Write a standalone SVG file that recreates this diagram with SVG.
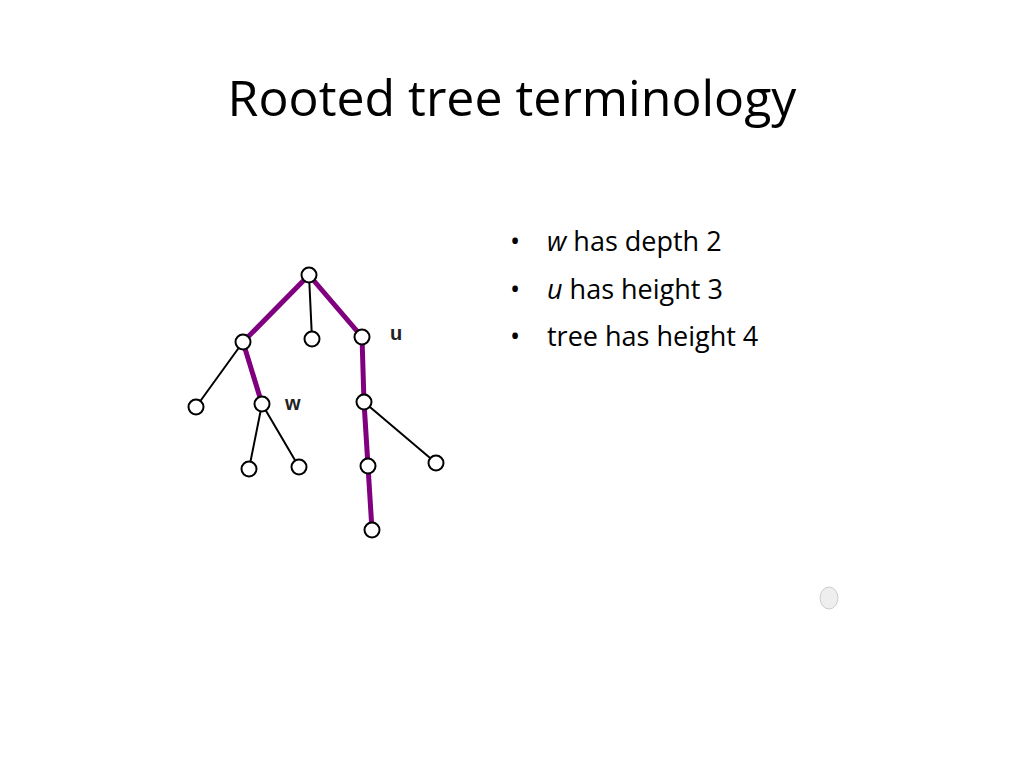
<svg xmlns="http://www.w3.org/2000/svg" width="1024" height="768" viewBox="0 0 1024 768">
<style>
.e{stroke:#000;stroke-width:2;fill:none}
.p{stroke:#800080;stroke-width:5;fill:none;stroke-linecap:round}
.n{fill:#fff;stroke:#000;stroke-width:2}
.t{font-family:"Open Sans","Liberation Sans",sans-serif;fill:#000}
.l{font-family:"Liberation Sans",sans-serif;font-weight:bold;font-size:20px;fill:#222}
</style>
<rect width="1024" height="768" fill="#fff"/>
<text class="t" x="512" y="116" font-size="50" text-anchor="middle">Rooted tree terminology</text>
<g class="t" font-size="27" fill="#222">
<text x="510" y="251">•</text><text x="547" y="251"><tspan font-style="italic">w</tspan> has depth 2</text>
<text x="510" y="299">•</text><text x="547" y="299"><tspan font-style="italic">u</tspan> has height 3</text>
<text x="510" y="346">•</text><text x="547" y="346">tree has height 4</text>
</g>
<g id="connectors">
<path class="e" d="M309 275L312 339M243 342L196 407M262 404L249 469M262 404L299 467M364 402L436 463"/>
<path class="p" d="M309 275L243 342L262 404M309 275L362 337L364 402L368 466L372 530"/>
</g>
<g id="root"><circle class="n" cx="309" cy="275" r="7.5"/></g>
<g id="a"><circle class="n" cx="243" cy="342" r="7.5"/></g>
<g id="b"><circle class="n" cx="312" cy="339" r="7.5"/></g>
<g id="u"><circle class="n" cx="362" cy="337" r="7.5"/><text class="l" x="390" y="340">u</text></g>
<g id="leaf1"><circle class="n" cx="196" cy="407" r="7.5"/></g>
<g id="w"><circle class="n" cx="262" cy="404" r="7.5"/><text class="l" x="285" y="410">w</text></g>
<g id="u1"><circle class="n" cx="364" cy="402" r="7.5"/></g>
<g id="w1"><circle class="n" cx="249" cy="469" r="7.5"/></g>
<g id="w2"><circle class="n" cx="299" cy="467" r="7.5"/></g>
<g id="u1a"><circle class="n" cx="368" cy="466" r="7.5"/></g>
<g id="u1b"><circle class="n" cx="436" cy="463" r="7.5"/></g>
<g id="bottom"><circle class="n" cx="372" cy="530" r="7.5"/></g>
<ellipse cx="829" cy="598" rx="9" ry="11" fill="#eee" stroke="#ccc"/>
</svg>
